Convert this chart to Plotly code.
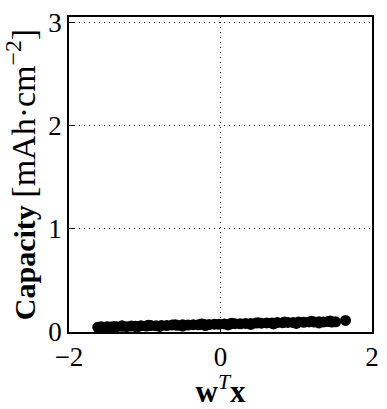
import plotly.graph_objects as go

# projected features w^T x
wtx = [-1.62, -1.58, -1.55, -1.50, -1.46, -1.41, -1.37, -1.30, -1.24, -1.18,
       -1.12, -1.05, -0.98, -0.92, -0.85, -0.78, -0.71, -0.64, -0.57, -0.50,
       -0.43, -0.36, -0.29, -0.22, -0.15, -0.08, -0.02, 0.05, 0.12, 0.19,
       0.26, 0.33, 0.40, 0.47, 0.54, 0.61, 0.68, 0.75, 0.82, 0.89,
       0.96, 1.03, 1.10, 1.17, 1.24, 1.30, 1.36, 1.42, 1.47, 1.52, 1.65,
       -1.40, -1.10, -0.80, -0.50, -0.20, 0.10, 0.40, 0.70, 1.00, 1.30,
       -1.30, -0.95, -0.60, -0.25, 0.15, 0.50, 0.85, 1.20, 1.45]
# capacity values [mAh cm^-2]
capacity = [0.045, 0.050, 0.046, 0.052, 0.048, 0.054, 0.050, 0.055, 0.052, 0.057,
            0.055, 0.060, 0.057, 0.062, 0.060, 0.064, 0.062, 0.067, 0.065, 0.069,
            0.067, 0.071, 0.070, 0.074, 0.072, 0.076, 0.075, 0.078, 0.077, 0.081,
            0.080, 0.083, 0.082, 0.086, 0.085, 0.088, 0.087, 0.091, 0.090, 0.093,
            0.092, 0.096, 0.094, 0.098, 0.096, 0.100, 0.097, 0.101, 0.096, 0.099, 0.112,
            0.043, 0.049, 0.054, 0.058, 0.063, 0.068, 0.073, 0.078, 0.083, 0.088,
            0.060, 0.066, 0.071, 0.077, 0.084, 0.090, 0.097, 0.103, 0.107]

fig = go.Figure()
fig.add_trace(go.Scatter(
    x=wtx, y=capacity, mode="markers",
    marker=dict(color="black", size=11, line=dict(width=0)),
    showlegend=False,
))

font = "Liberation Serif, DejaVu Serif, serif"
axis_common = dict(
    showline=True, linecolor="black", linewidth=1.8, mirror=True,
    ticks="inside", ticklen=5, tickcolor="black",
    showgrid=True, gridcolor="black", griddash="1px,4px", gridwidth=1.3,
    zeroline=False,
    tickfont=dict(family=font, size=27, color="black"),
)
fig.update_layout(
    width=387, height=409,
    margin=dict(l=69, r=8, t=12, b=77),
    paper_bgcolor="white", plot_bgcolor="white",
    font=dict(family=font, color="black"),
    xaxis=dict(range=[-2, 2], tickvals=[-2, 0, 2], ticktext=["\u22122", "0", "2"],
               ticklabeloverflow="allow",
               title=dict(text="<b>w</b><i><sup>T</sup></i><b>x</b>",
                          font=dict(family=font, size=31), standoff=0),
               **axis_common),
    yaxis=dict(range=[0, 3.05], tickvals=[0, 1, 2, 3],
               title=dict(text="<b>Capacity</b> <span style='font-size:34px'>[mAh\u00b7cm<sup>\u22122</sup>]</span>",
                          font=dict(family=font, size=30), standoff=6),
               **axis_common),
)
fig.write_html("out.html", post_script="document.body.style.margin='0';",
               config={"displayModeBar": False})
